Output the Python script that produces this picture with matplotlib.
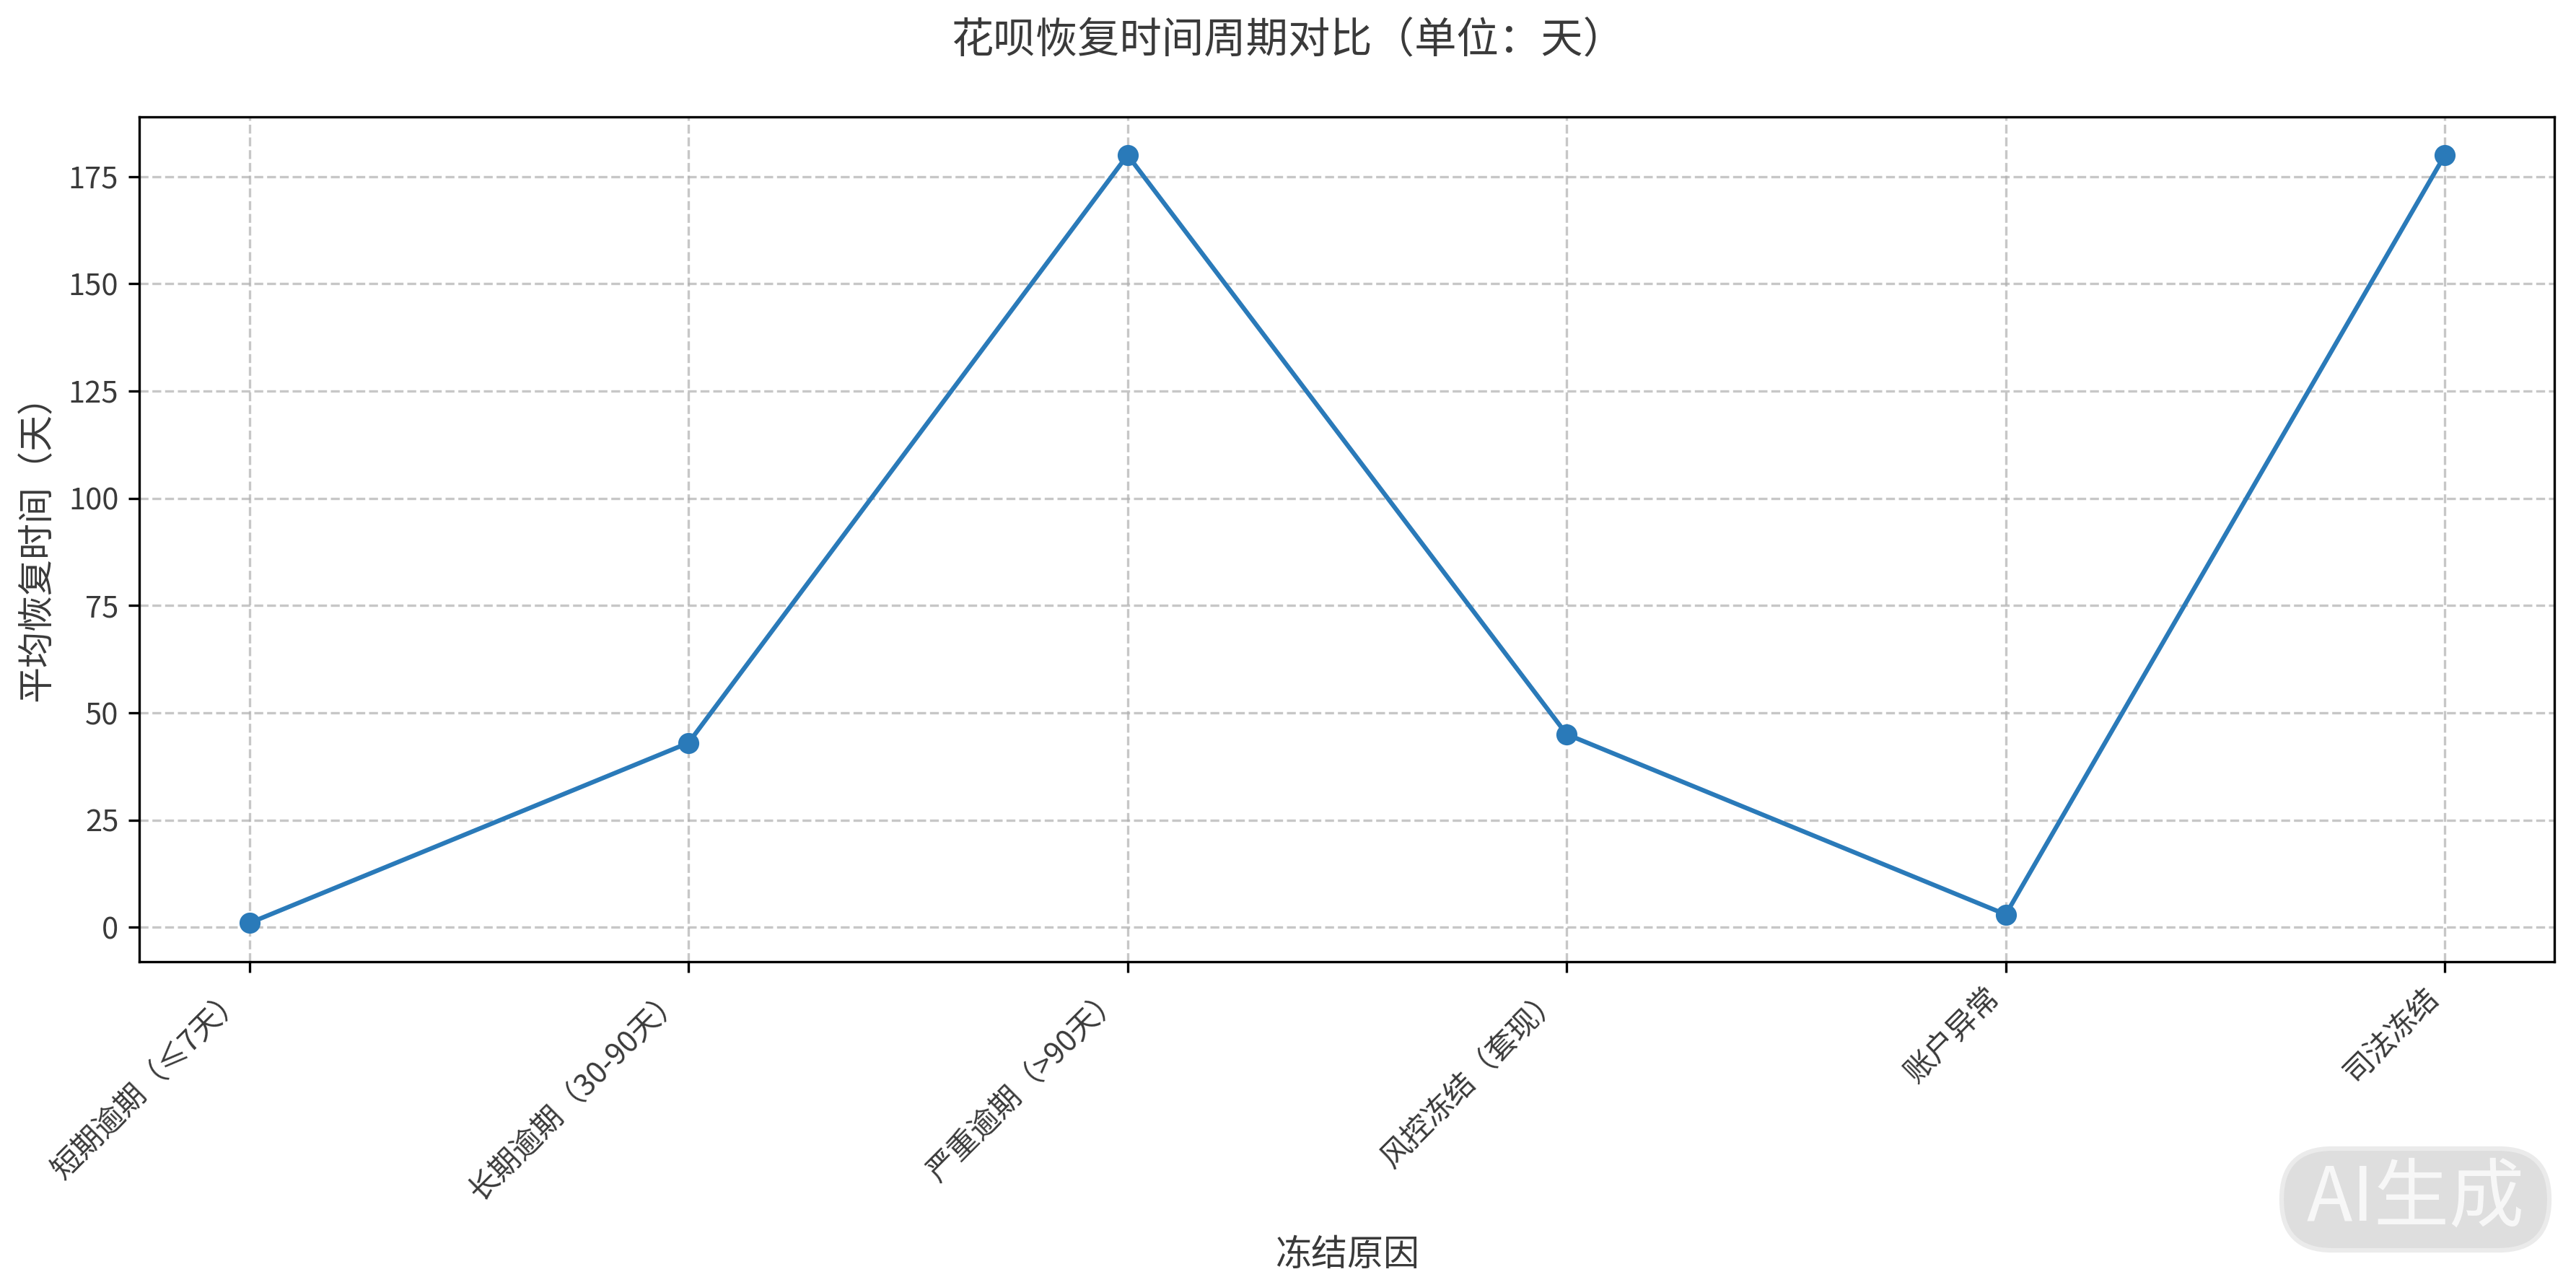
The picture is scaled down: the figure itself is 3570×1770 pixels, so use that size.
import matplotlib
matplotlib.use("Agg")
import matplotlib.pyplot as plt
from matplotlib import font_manager
from matplotlib.patches import FancyBboxPatch

plt.rcParams['font.family'] = ['Noto Sans CJK SC', 'DejaVu Sans']
plt.rcParams['axes.unicode_minus'] = False

# ------------------ DATOS ------------------
razones = ["短期逾期（≤7天）", "长期逾期（30-90天）", "严重逾期（>90天）",
           "风控冻结（套现）", "账户异常", "司法冻结"]
dias = [1, 43, 180, 45, 3, 180]

# buscar una variante fina de la fuente CJK, si existe
fuente_fina = None
for f in font_manager.fontManager.ttflist:
    if "CJK SC" in f.name and isinstance(f.weight, int) and f.weight < 400:
        fuente_fina = f
        break

if fuente_fina is not None:
    plt.rcParams['font.family'] = [fuente_fina.name, 'DejaVu Sans']
    peso = fuente_fina.weight
    color_txt = "black"
else:
    peso = "normal"
    color_txt = "#3a3a3a"

fig = plt.figure(figsize=(11.9, 5.9), dpi=300)
ax = fig.add_axes([0.0542, 0.2471, 0.9375, 0.6615])

ax.plot(razones, dias, marker="o", color="#2a7ab9", linewidth=1.5, markersize=6)

ax.grid(True, linestyle="--", alpha=0.7)
ax.set_xticks(range(len(razones)))
ax.set_xticklabels(razones, rotation=45, ha="right", fontsize=10, fontweight=peso, color=color_txt)
for t in ax.get_yticklabels():
    t.set_fontsize(10)
    t.set_fontweight(peso)
    t.set_color(color_txt)

ax.set_xlabel("冻结原因", fontsize=12, fontweight=peso, color=color_txt, labelpad=10)
ax.set_ylabel("平均恢复时间（天）", fontsize=12, fontweight=peso, color=color_txt)
fig.suptitle("花呗恢复时间周期对比（单位：天）", fontsize=14, fontweight=peso,
             color=color_txt, y=0.985)

# marca de agua (en pixeles)
caja = FancyBboxPatch((3162, 37), 371, 141, boxstyle="round,pad=0,rounding_size=70",
                      facecolor="#dedede", edgecolor="#ebebeb", linewidth=1.5,
                      transform=None)
fig.add_artist(caja)
fig.text(3348 / 3570, 0.061, "AI生成", fontsize=25, color="#f7f7f7",
         ha="center", va="center", family=['Noto Sans CJK SC', 'DejaVu Sans'])

fig.savefig("out.png", dpi=300)
